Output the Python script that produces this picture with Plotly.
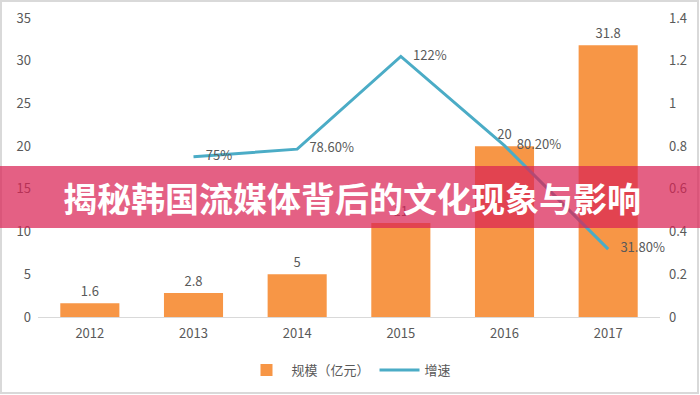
import plotly.graph_objects as go

years = ["2012", "2013", "2014", "2015", "2016", "2017"]
scale = [1.6, 2.8, 5, 11, 20, 31.8]
scale_labels = ["1.6", "2.8", "5", "11", "20", "31.8"]
growth_years = ["2013", "2014", "2015", "2016", "2017"]
growth = [0.75, 0.786, 1.22, 0.802, 0.318]
growth_labels = ["75%", "78.60%", "122%", "80.20%", "31.80%"]
left_ticks = [0, 5, 10, 15, 20, 25, 30, 35]
right_ticks = [0, 0.2, 0.4, 0.6, 0.8, 1, 1.2, 1.4]
right_tick_text = ["0", "0.2", "0.4", "0.6", "0.8", "1", "1.2", "1.4"]
title = "揭秘韩国流媒体背后的文化现象与影响"

FONT = "Noto Sans CJK SC, Noto Sans, sans-serif"
GRAY = "#595959"

fig = go.Figure()
fig.add_trace(go.Bar(
    x=years, y=scale, name="规模（亿元）",
    marker=dict(color="#F79646", line=dict(width=0)),
    text=scale_labels, textposition="outside", cliponaxis=False,
    textfont=dict(size=13, color=GRAY, family=FONT),
    width=0.57,
))
fig.add_trace(go.Scatter(
    x=growth_years, y=growth, name="增速", yaxis="y2",
    mode="lines+markers+text", line=dict(color="#4BACC6", width=3),
    marker=dict(size=18, color="rgba(0,0,0,0)"),
    text=growth_labels, textposition="middle right", cliponaxis=False,
    textfont=dict(size=13, color=GRAY, family=FONT),
))

L, R, T, B = 38, 40, 18, 78
W, H = 700, 395
pw, ph = W - L - R, H - T - B

def py(p):
    return (H - B - p) / ph

def px(p):
    return (p - L) / pw

fig.update_layout(
    width=W, height=H,
    margin=dict(l=L, r=R, t=T, b=B, autoexpand=False),
    paper_bgcolor="white", plot_bgcolor="white",
    font=dict(family=FONT, size=12, color=GRAY),
    xaxis=dict(
        type="category", showgrid=False, showline=True,
        linecolor="#D9D9D9", linewidth=1, ticks="",
        tickfont=dict(size=13, color=GRAY), ticklabelstandoff=4,
    ),
    yaxis=dict(
        range=[0, 35], tickvals=left_ticks, showgrid=False,
        zeroline=False, showline=False,
        tickfont=dict(size=13, color=GRAY), ticklabelstandoff=6,
    ),
    yaxis2=dict(
        range=[0, 1.4], tickvals=right_ticks, ticktext=right_tick_text,
        overlaying="y", side="right", showgrid=False, zeroline=False,
        showline=False, tickfont=dict(size=13, color=GRAY), ticklabelstandoff=8,
    ),
    legend=dict(
        orientation="h", x=0.5, xanchor="center", y=py(370), yanchor="middle",
        font=dict(size=13, color=GRAY), itemwidth=40,
    ),
    showlegend=True,
)

fig.add_shape(type="rect", xref="paper", yref="paper",
              x0=px(1), x1=px(698), y0=py(393), y1=py(1),
              line=dict(color="#D9D9D9", width=2), fillcolor="rgba(0,0,0,0)", layer="above")
fig.add_shape(type="rect", xref="paper", yref="paper",
              x0=px(0), x1=px(700), y0=py(228), y1=py(166),
              line=dict(width=0), fillcolor="rgba(218,35,85,0.72)", layer="above")
fig.add_annotation(xref="paper", yref="paper", x=px(352), y=py(197),
                   text="<b>" + title + "</b>", showarrow=False,
                   font=dict(size=34, color="white", family="Noto Sans CJK SC"))

fig.write_html("out.html", config={"displayModeBar": False},
               post_script="document.body.style.margin='0';document.body.style.padding='0';")
